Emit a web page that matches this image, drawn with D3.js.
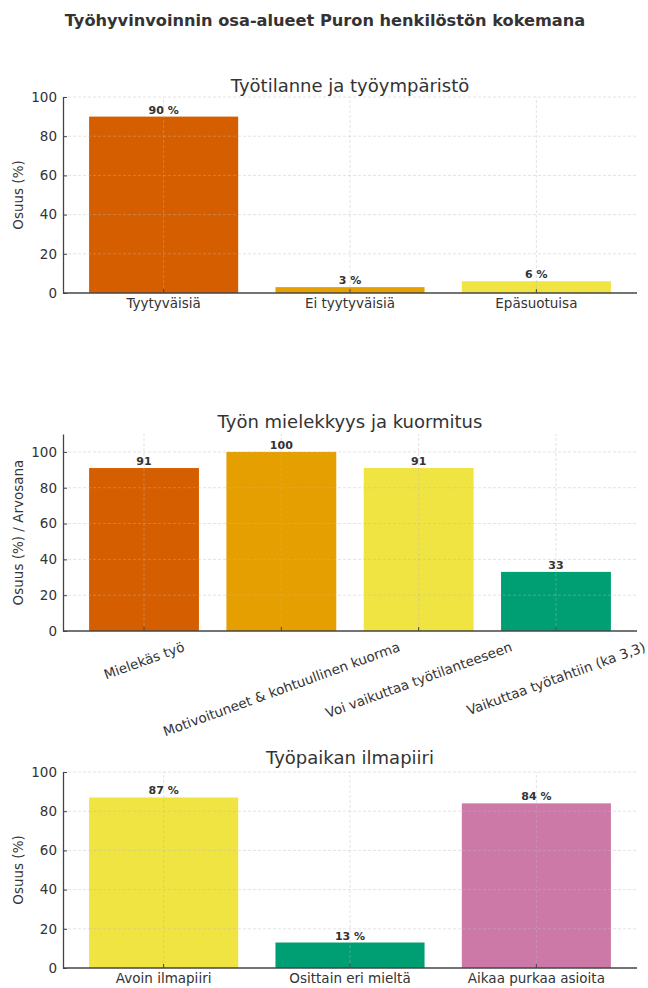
<!DOCTYPE html>
<html>
<head>
<meta charset="utf-8">
<script src="https://cdn.jsdelivr.net/npm/d3@7"></script>
<style>
  html, body { margin: 0; padding: 0; background: #fff; }
  svg { display: block; font-family: "DejaVu Sans", sans-serif; }
</style>
</head>
<body>
<svg id="chart" width="648" height="988"></svg>
<script>
// Survey results: three panels of well-being at work
const mainTitle = "Työhyvinvoinnin osa-alueet Puron henkilöstön kokemana";

const panelTitles = ["Työtilanne ja työympäristö", "Työn mielekkyys ja kuormitus", "Työpaikan ilmapiiri"];
const yLabels = ["Osuus (%)", "Osuus (%) / Arvosana", "Osuus (%)"];

const envCategories = ["Tyytyväisiä", "Ei tyytyväisiä", "Epäsuotuisa"];
const envValues = [90, 3, 6];

const meaningCategories = ["Mielekäs työ", "Motivoituneet & kohtuullinen kuorma", "Voi vaikuttaa työtilanteeseen", "Vaikuttaa työtahtiin (ka 3,3)"];
const meaningValues = [91, 100, 91, 33];

const climateCategories = ["Avoin ilmapiiri", "Osittain eri mieltä", "Aikaa purkaa asioita"];
const climateValues = [87, 13, 84];

const yTickValues = [0, 20, 40, 60, 80, 100];
const yMaxes = [100, 110, 100];
const valueSuffixes = [" %", "", " %"];

const envColors = ["#d55e00", "#e69f00", "#f0e442"];
const meaningColors = ["#d55e00", "#e69f00", "#f0e442", "#009e73"];
const climateColors = ["#f0e442", "#009e73", "#cc79a7"];

// Panel geometry (pixel layout)
const plotLeft = 63, plotRight = 637;
const panelBoxes = [
  { top: 97, bottom: 293, titleY: 85, rotate: false },
  { top: 434, bottom: 631, titleY: 421, rotate: true },
  { top: 772, bottom: 968, titleY: 757, rotate: false }
];

const panels = [
  { cats: envCategories, vals: envValues, colors: envColors },
  { cats: meaningCategories, vals: meaningValues, colors: meaningColors },
  { cats: climateCategories, vals: climateValues, colors: climateColors }
];

const svg = d3.select("#chart");
const textColor = "#333";

svg.append("text")
  .attr("x", 325).attr("y", 20)
  .attr("text-anchor", "middle").attr("dominant-baseline", "central")
  .attr("font-size", 16.2).attr("font-weight", "bold")
  .attr("fill", textColor)
  .text(mainTitle);

panels.forEach((p, i) => {
  const box = panelBoxes[i];
  const n = p.cats.length;
  const g = svg.append("g");

  // bar width 0.8 of a step, 5% margin of the data span at both ends
  const x = d3.scaleBand()
    .domain(p.cats)
    .range([plotLeft, plotRight])
    .paddingInner(0.2)
    .paddingOuter(0.05 * (n - 0.2));

  const y = d3.scaleLinear().domain([0, yMaxes[i]]).range([box.bottom, box.top]);

  // bars
  g.selectAll("rect.bar").data(p.vals).join("rect")
    .attr("class", "bar")
    .attr("x", (d, j) => x(p.cats[j]))
    .attr("width", x.bandwidth())
    .attr("y", d => y(d))
    .attr("height", d => y(0) - y(d))
    .attr("fill", (d, j) => p.colors[j]);

  // grid (drawn over the bars)
  const grid = g.append("g")
    .attr("stroke", "#b8b8b8").attr("stroke-opacity", 0.5)
    .attr("stroke-width", 0.8).attr("stroke-dasharray", "3,2");
  grid.selectAll("line.h").data(yTickValues.filter(v => v > 0)).join("line")
    .attr("class", "h")
    .attr("x1", plotLeft).attr("x2", plotRight)
    .attr("y1", d => y(d)).attr("y2", d => y(d));
  grid.selectAll("line.v").data(p.cats).join("line")
    .attr("class", "v")
    .attr("x1", d => x(d) + x.bandwidth() / 2).attr("x2", d => x(d) + x.bandwidth() / 2)
    .attr("y1", y(0)).attr("y2", y(yMaxes[i]));

  // value labels
  g.selectAll("text.val").data(p.vals).join("text")
    .attr("class", "val")
    .attr("x", (d, j) => x(p.cats[j]) + x.bandwidth() / 2)
    .attr("y", d => y(d) - 3)
    .attr("text-anchor", "middle")
    .attr("font-size", 11).attr("font-weight", "bold")
    .attr("fill", textColor)
    .text(d => d + valueSuffixes[i]);

  // y axis
  const yAxis = g.append("g")
    .attr("transform", `translate(${plotLeft},0)`)
    .call(d3.axisLeft(y).tickValues(yTickValues).tickSizeInner(-4).tickSizeOuter(0).tickPadding(6));
  yAxis.select(".domain").attr("stroke", "#444").attr("stroke-width", 1.3);
  yAxis.selectAll(".tick line").attr("stroke", "#444");
  yAxis.selectAll(".tick text").attr("font-size", 13.5).attr("fill", textColor)
    .attr("font-family", "DejaVu Sans, sans-serif");

  // x axis
  const xAxis = g.append("g")
    .attr("transform", `translate(0,${box.bottom})`)
    .call(d3.axisBottom(x).tickSizeInner(-4).tickSizeOuter(0).tickPadding(5));
  xAxis.select(".domain").attr("stroke", "#444").attr("stroke-width", 1.3)
    .attr("d", `M${plotLeft},0H${plotRight}`);
  xAxis.selectAll(".tick line").attr("stroke", "#444");
  const xt = xAxis.selectAll(".tick text").attr("font-size", 13.5).attr("fill", textColor)
    .attr("font-family", "DejaVu Sans, sans-serif");

  if (box.rotate) {
    const a = 20 * Math.PI / 180;
    const h = 13.5 * 1.1;
    xt.each(function () {
      const t = d3.select(this);
      const L = this.getComputedTextLength();
      const cy = 8 + (L * Math.sin(a) + h * Math.cos(a)) / 2;
      t.attr("y", null).attr("dy", null)
        .attr("text-anchor", "middle")
        .attr("dominant-baseline", "central")
        .attr("transform", `translate(0,${cy}) rotate(-20)`);
    });
  }

  // panel title
  g.append("text")
    .attr("x", (plotLeft + plotRight) / 2).attr("y", box.titleY)
    .attr("text-anchor", "middle").attr("dominant-baseline", "central")
    .attr("font-size", 18).attr("fill", textColor)
    .text(panelTitles[i]);

  // y label
  g.append("text")
    .attr("transform", `translate(18,${(box.top + box.bottom) / 2}) rotate(-90)`)
    .attr("text-anchor", "middle").attr("dominant-baseline", "central")
    .attr("font-size", 13.5).attr("fill", textColor)
    .text(yLabels[i]);
});
</script>
</body>
</html>
